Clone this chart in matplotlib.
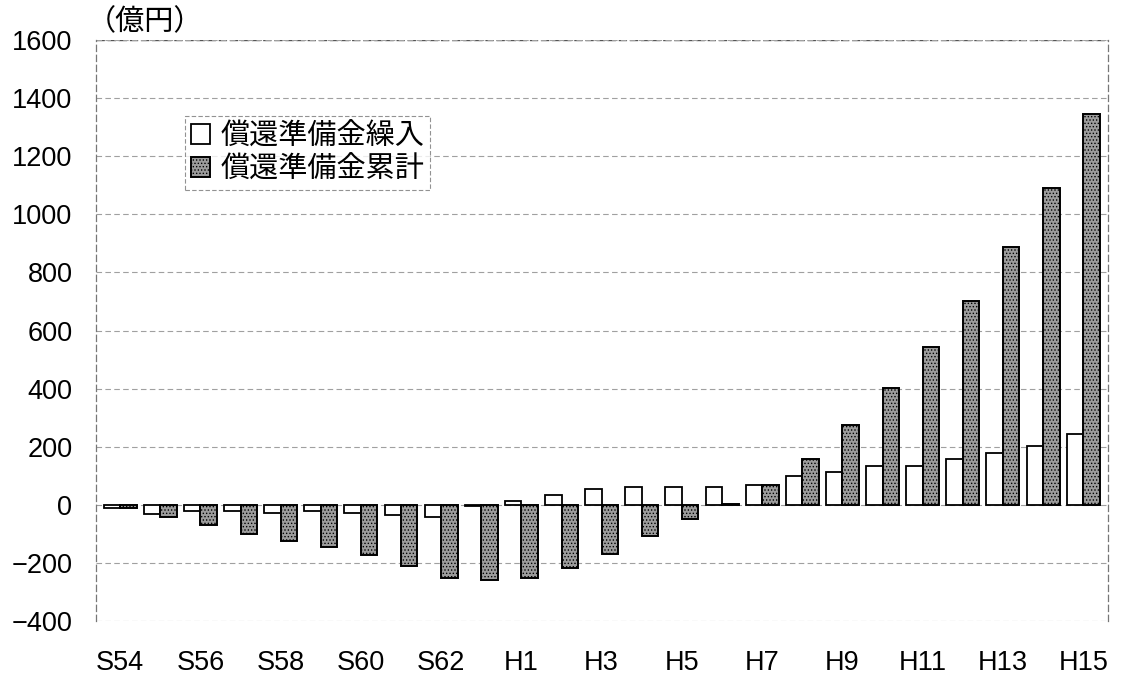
import matplotlib
matplotlib.use('Agg')
import matplotlib.pyplot as plt
import numpy as np

plt.rcParams['font.family'] = ['Liberation Sans', 'Noto Sans CJK JP', 'DejaVu Sans']
plt.rcParams['axes.unicode_minus'] = True
plt.rcParams['hatch.linewidth'] = 0.6

jp = ['Noto Sans CJK JP', 'DejaVu Sans']

years = ['S54', 'S55', 'S56', 'S57', 'S58', 'S59', 'S60', 'S61', 'S62', 'S63',
         'H1', 'H2', 'H3', 'H4', 'H5', 'H6', 'H7', 'H8', 'H9', 'H10',
         'H11', 'H12', 'H13', 'H14', 'H15']
# 償還準備金繰入（億円）
kuriire = [-12, -30, -22, -22, -27, -22, -28, -36, -42, -3,
           14, 35, 55, 60, 60, 60, 68, 98, 112, 133,
           133, 158, 179, 204, 245]
# 償還準備金累計（億円）
ruikei = [-12, -42, -68, -99, -124, -144, -173, -212, -253, -260,
          -253, -217, -170, -108, -48, 4, 67, 157, 274, 403,
          543, 701, 889, 1092, 1345]

x = np.arange(len(years))
w = 0.41

fig = plt.figure(figsize=(11.22, 6.8), dpi=100)
ax = fig.add_axes([0.0856, 0.0868, 0.902, 0.8542])

ax.bar(x - w / 2, kuriire, w, color='white', edgecolor='black', linewidth=1.3,
       label='償還準備金繰入', zorder=3)
ax.bar(x + w / 2, ruikei, w, color='#9c9c9c', edgecolor='black', linewidth=1.4,
       hatch='.....', label='償還準備金累計', zorder=3)

ax.set_ylim(-400, 1600)
ax.set_xlim(-0.6, 24.62)
ax.set_yticks(np.arange(-400, 1601, 200))
ax.set_xticks(x[::2])
ax.set_xticklabels(years[::2])
ax.tick_params(axis='both', length=0, labelsize=19.5, colors='black')
ax.tick_params(axis='y', pad=17)
ax.tick_params(axis='x', pad=21)

ax.yaxis.grid(True, linestyle=(0, (5, 3)), color='#a0a0a0', linewidth=0.8, zorder=0)
ax.axhline(1600, color='#555555', linestyle=(0, (6, 2)), linewidth=1.0, zorder=1)
for side in ['left', 'right']:
    ax.spines[side].set_linestyle((0, (5, 3)))
    ax.spines[side].set_color('#777777')
    ax.spines[side].set_linewidth(0.9)
ax.spines['top'].set_visible(False)
ax.spines['bottom'].set_visible(False)

leg = ax.legend(loc='upper left', bbox_to_anchor=(0.088, 0.87),
                prop={'family': jp, 'size': 21},
                frameon=True, fancybox=False, handlelength=0.65, handleheight=0.65,
                handletextpad=0.35, labelspacing=0.1, borderpad=0.2, borderaxespad=0)
leg.get_frame().set_edgecolor('#777777')
leg.get_frame().set_linestyle((0, (4, 2)))
leg.get_frame().set_linewidth(0.8)

fig.text(0.077, 0.968, '（億円）', fontsize=21, va='center', ha='left', family=jp)

fig.savefig('out.png', dpi=100, facecolor='white')
